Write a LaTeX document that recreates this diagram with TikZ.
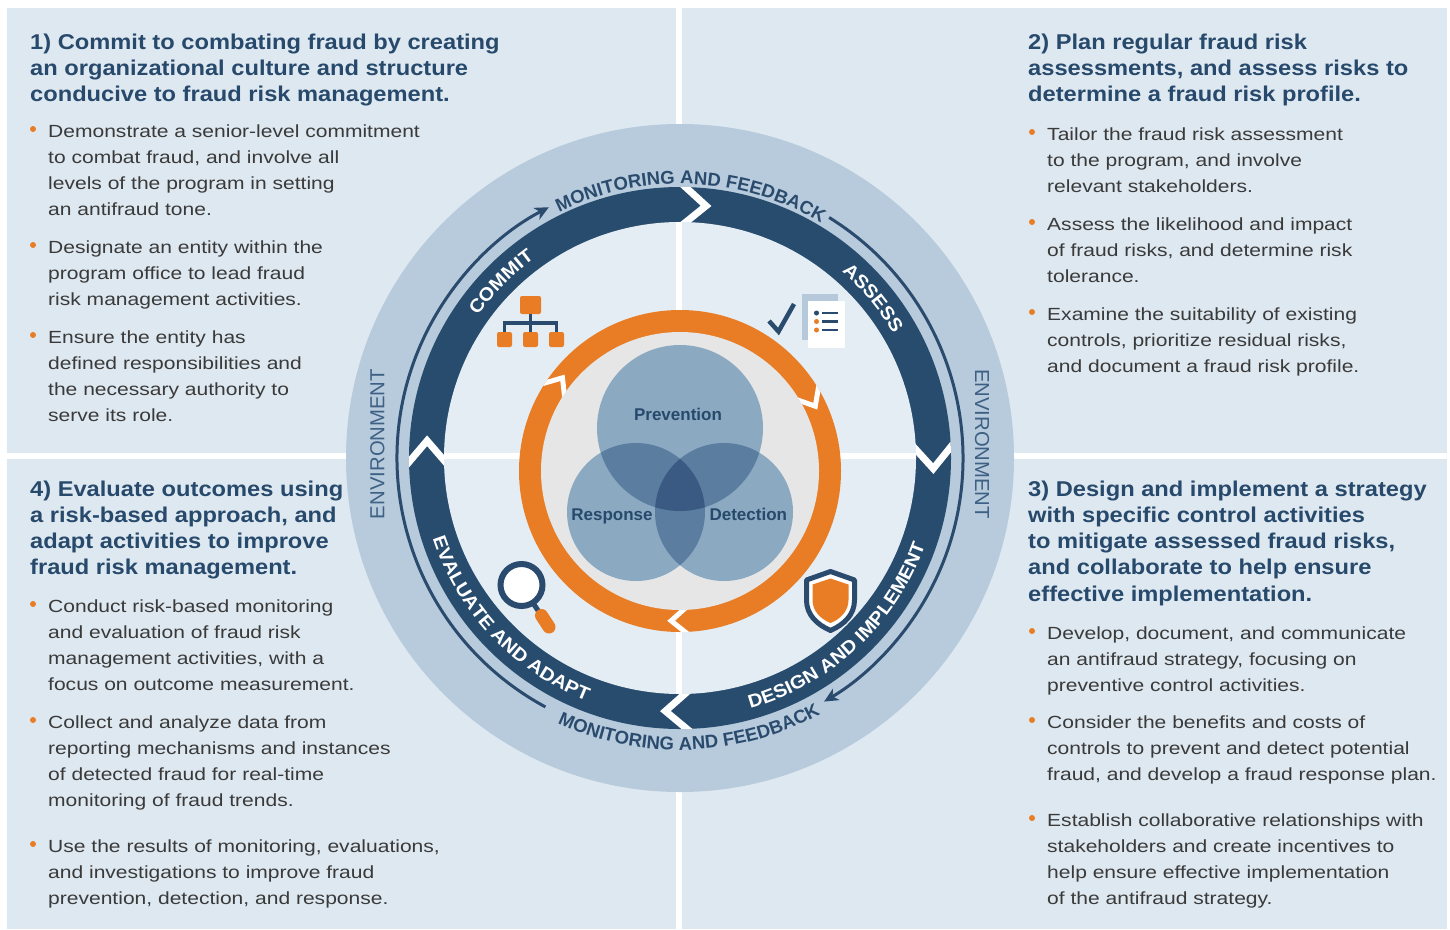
\documentclass[tikz,border=0pt]{standalone}
\usepackage{fontspec}
\setmainfont{Liberation Sans}
\newfontfamily\lsans{Liberation Sans}
\newfontfamily\bodyf[FakeStretch=1.195]{Liberation Sans}
\newfontfamily\titlef[FakeStretch=1.106]{Liberation Sans}
\newfontfamily\ringf[FakeStretch=1.08]{Liberation Sans}
\usetikzlibrary{arrows.meta,decorations.text}
\definecolor{panel}{HTML}{DEE8F0}
\definecolor{innerc}{HTML}{E4EDF4}
\definecolor{lring}{HTML}{B7CBDC}
\definecolor{dring}{HTML}{284C6E}
\definecolor{navy}{HTML}{2A4B6D}
\definecolor{ttl}{HTML}{27496C}
\definecolor{bodytxt}{HTML}{3A3A3A}
\definecolor{orng}{HTML}{E87D25}
\definecolor{vgrey}{HTML}{E6E6E6}
\definecolor{vcA}{HTML}{8CA9C2}
\definecolor{vcB}{HTML}{5B7DA0}
\definecolor{vcC}{HTML}{3A5A84}
\definecolor{envc}{HTML}{3D6084}
\definecolor{docb}{HTML}{B5C9DB}
\newcommand\lblfmt{\ringf\bfseries\fontsize{18.5}{20}\selectfont\color{white}}
\newcommand\monfmt{\lsans\bfseries\fontsize{18.5}{20}\selectfont\color{navy}}
\tikzset{
  ttlst/.style={font=\titlef\bfseries\fontsize{21.4}{26}\selectfont, text=ttl, inner sep=0pt},
  bodyst/.style={font=\bodyf\fontsize{17.6}{26}\selectfont, text=bodytxt, inner sep=0pt},
  vennst/.style={font=\lsans\bfseries\fontsize{17}{20}\selectfont, text=ttl, inner sep=0pt, anchor=base},
  envst/.style={font=\lsans\fontsize{20.3}{22}\selectfont, text=envc, inner sep=0pt},
  dchev/.style={draw=white, line width=7pt, line join=miter},
  ochev/.style={draw=white, line width=5pt, line join=miter},
  arcst/.style={draw=navy, line width=3pt, -{Stealth[length=14pt,width=13pt,inset=4pt]}},
  iconline/.style={draw=navy, line width=3.5pt},
  ringlbl/.style={decorate, decoration={text along path, text align=center, text={|\lblfmt|#1}}},
  monlbl/.style={decorate, decoration={text along path, text align=center, text={|\monfmt|#1}}},
}
\newcommand\plines[5]{\foreach \lx [count=\i from 0] in {#5}{\node[#4, anchor=base west] (#1\i) at (#2,{#3+\i*26.3}) {\lx};}}
\newcommand\chev[5]{\draw[#5] ({#1+#4}:{#2+#3}) -- ({#1-#4}:#2) -- ({#1+#4}:{#2-#3});}
\newcommand\bdot[2]{\fill[orng] (#1,#2) circle (3);}
\begin{document}
\begin{tikzpicture}[x=1pt,y=1pt]
\useasboundingbox (0,-929) rectangle (1450,0);
\fill[white] (0,-929) rectangle (1450,0);
% panels
\begin{scope}[yscale=-1]
  \fill[panel] (7,8) rectangle (676,453);
  \fill[panel] (682,8) rectangle (1447,453);
  \fill[panel] (7,459) rectangle (676,929);
  \fill[panel] (682,459) rectangle (1447,929);
\end{scope}
% outer rings
\begin{scope}[shift={(680,-458)}]
  \fill[lring] (0,0) circle (334);
  \fill[dring] (0,0) circle (271);
  \begin{scope}
    \clip (0,0) circle (271);
    \chev{87}{253.5}{22}{2.9}{dchev}
    \chev{0.5}{253.5}{22}{2.9}{dchev}
    \chev{-90.4}{253.5}{22}{2.9}{dchev}
    \chev{179}{253.5}{22}{2.9}{dchev}
  \end{scope}
  \fill[innerc] (0,0) circle (236);
  \draw[white, line width=6pt] (-236,2) -- (236,2);
  \draw[white, line width=6pt] (-1,-236) -- (-1,236);
\end{scope}
% orange ring
\begin{scope}[shift={(680,-471)}]
  \fill[orng] (0,0) circle (161);
  \begin{scope}
    \clip (0,0) circle (161);
    \chev{145}{150}{15}{3.4}{ochev}
    \chev{29}{150}{15}{3.4}{ochev}
    \chev{-90}{150}{15}{3.4}{ochev}
  \end{scope}
  \fill[vgrey] (0,0) circle (139);
\end{scope}
\begin{scope}[yscale=-1]
  % Venn
  \fill[vcA] (680,428) circle (83);
  \fill[vcA] (636,512) circle (69);
  \fill[vcA] (724,512) circle (69);
  \begin{scope}\clip (680,428) circle (83); \fill[vcB] (636,512) circle (69); \fill[vcB] (724,512) circle (69); \end{scope}
  \begin{scope}\clip (636,512) circle (69); \fill[vcB] (724,512) circle (69); \end{scope}
  \begin{scope}\clip (680,428) circle (83); \clip (636,512) circle (69); \fill[vcC] (724,512) circle (69); \end{scope}
  \node[vennst] (prev) at (678,420) {Prevention};
  \node[vennst] (resp) at (612,520.7) {Response};
  \node[vennst] (dete) at (748.3,520.7) {Detection};
  % org chart icon
  \fill[orng, rounded corners=2pt] (520,296) rectangle (541,314);
  \draw[iconline] (530.5,314) -- (530.5,333);
  \draw[iconline] (504.5,333) -- (504.5,323) -- (556.5,323) -- (556.5,333);
  \fill[orng, rounded corners=2pt] (497,332) rectangle (512,347);
  \fill[orng, rounded corners=2pt] (523,332) rectangle (538,347);
  \fill[orng, rounded corners=2pt] (549,332) rectangle (564,347);
  % check + document
  \draw[draw=navy, line width=4.5pt, line join=miter] (769,321) -- (778.5,331.5) -- (794,304);
  \fill[docb] (802,294) rectangle (838,340);
  \fill[white] (808,301) rectangle (845,348);
  \fill[navy] (816.5,313) circle (2.5);
  \fill[orng] (816.5,321.5) circle (2.5);
  \fill[orng] (816.5,330) circle (2.5);
  \draw[navy, line width=2.5pt] (822,313) -- (838,313);
  \draw[navy, line width=2.5pt] (822,321.5) -- (838,321.5);
  \draw[navy, line width=2.5pt] (822,330) -- (838,330);
  % magnifier
  \draw[navy, line width=5pt] (533,603) -- (539,612);
  \draw[orng, line width=13pt, line cap=round] (541.5,615.5) -- (549,627);
  \draw[navy, line width=6pt, fill=white] (521.5,585) circle (21);
  % shield
  \filldraw[draw=navy, line width=5pt, fill=white, line join=round] (806.5,580) -- (830.5,571.5) -- (854.5,580) -- (854.5,600) .. controls (854.5,615) and (844,624.5) .. (830.5,630.5) .. controls (817,624.5) and (806.5,615) .. (806.5,600) -- cycle;
  \fill[orng] (812.5,584.5) -- (830.5,578.5) -- (848.5,584.5) -- (848.5,600) .. controls (848.5,611) and (840.5,619) .. (830.5,623) .. controls (820.5,619) and (812.5,611) .. (812.5,600) -- cycle;
  % environment labels
  \node[envst, rotate=90] (envl) at (377.5,444) {ENVIRONMENT};
  \node[envst, rotate=-90] (envr) at (982,444) {ENVIRONMENT};
  % panel 1
  \plines{tlT}{30}{49}{ttlst}{{1) Commit to combating fraud by creating},{an organizational culture and structure},{conducive to fraud risk management.}}
  \bdot{33}{129}
  \plines{tlA}{48}{137}{bodyst}{{Demonstrate a senior-level commitment},{to combat fraud, and involve all},{levels of the program in setting},{an antifraud tone.}}
  \bdot{33}{245}
  \plines{tlB}{48}{253}{bodyst}{{Designate an entity within the},{program office to lead fraud},{risk management activities.}}
  \bdot{33}{335}
  \plines{tlC}{48}{343}{bodyst}{{Ensure the entity has},{defined responsibilities and},{the necessary authority to},{serve its role.}}
  % panel 2
  \plines{trT}{1028}{49}{ttlst}{{2) Plan regular fraud risk},{assessments, and assess risks to},{determine a fraud risk profile.}}
  \bdot{1032}{132}
  \plines{trA}{1047}{140}{bodyst}{{Tailor the fraud risk assessment},{to the program, and involve},{relevant stakeholders.}}
  \bdot{1032}{222}
  \plines{trB}{1047}{230}{bodyst}{{Assess the likelihood and impact},{of fraud risks, and determine risk},{tolerance.}}
  \bdot{1032}{312}
  \plines{trC}{1047}{320}{bodyst}{{Examine the suitability of existing},{controls, prioritize residual risks,},{and document a fraud risk profile.}}
  % panel 3
  \plines{brT}{1028}{496}{ttlst}{{3) Design and implement a strategy},{with specific control activities},{to mitigate assessed fraud risks,},{and collaborate to help ensure},{effective implementation.}}
  \bdot{1032}{631}
  \plines{brA}{1047}{639}{bodyst}{{Develop, document, and communicate},{an antifraud strategy, focusing on},{preventive control activities.}}
  \bdot{1032}{720}
  \plines{brB}{1047}{728}{bodyst}{{Consider the benefits and costs of},{controls to prevent and detect potential},{fraud, and develop a fraud response plan.}}
  \bdot{1032}{818}
  \plines{brC}{1047}{826}{bodyst}{{Establish collaborative relationships with},{stakeholders and create incentives to},{help ensure effective implementation},{of the antifraud strategy.}}
  % panel 4
  \plines{blT}{30}{496}{ttlst}{{4) Evaluate outcomes using},{a risk-based approach, and},{adapt activities to improve},{fraud risk management.}}
  \bdot{33}{604}
  \plines{blA}{48}{612}{bodyst}{{Conduct risk-based monitoring},{and evaluation of fraud risk},{management activities, with a},{focus on outcome measurement.}}
  \bdot{33}{720}
  \plines{blB}{48}{728}{bodyst}{{Collect and analyze data from},{reporting mechanisms and instances},{of detected fraud for real-time},{monitoring of fraud trends.}}
  \bdot{33}{844}
  \plines{blC}{48}{852}{bodyst}{{Use the results of monitoring, evaluations,},{and investigations to improve fraud},{prevention, detection, and response.}}
\end{scope}
% ring arcs and curved labels
\begin{scope}[shift={(680,-458)}]
  \draw[arcst] (-118.4:283) arc[start angle=-118.4, end angle=-242.4, radius=283];
  \draw[arcst] (58.2:283) arc[start angle=58.2, end angle=-59.4, radius=283];
  \path[monlbl={MONITORING AND FEEDBACK}] (140:274) arc[start angle=140, end angle=35.2, radius=274];
  \path[monlbl={MONITORING AND FEEDBACK}] (-140:292) arc[start angle=-140, end angle=-36, radius=292];
  \path[ringlbl={COMMIT}] (160:247) arc[start angle=160, end angle=111, radius=247];
  \path[ringlbl={ASSESS}] (64.7:247) arc[start angle=64.7, end angle=14.7, radius=247];
  \path[ringlbl={DESIGN AND IMPLEMENT}] (-100:260) arc[start angle=-100, end angle=6.2, radius=260];
  \path[ringlbl={EVALUATE AND ADAPT}] (170:260) arc[start angle=170, end angle=277, radius=260];
\end{scope}
\end{tikzpicture}
\end{document}
